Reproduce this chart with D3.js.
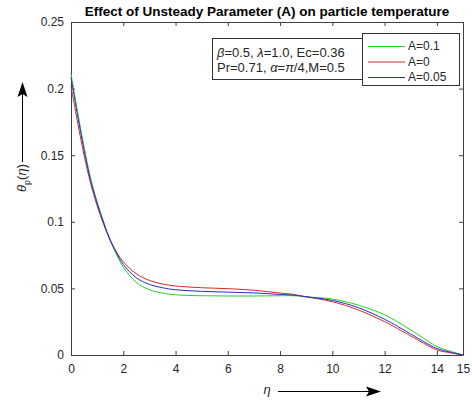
<!DOCTYPE html>
<html>
<head>
<meta charset="utf-8">
<script src="https://d3js.org/d3.v7.min.js"></script>
<style>
  body { margin: 0; background: #fff; }
  svg { display: block; font-family: "Liberation Sans", Arial, sans-serif; }
  .axis path, .axis line { stroke: #404040; }
  .axis text { fill: #262626; font-size: 12px; }
</style>
</head>
<body>
<svg></svg>
<script>
// DATA

let eta = [0, 0.25, 0.5, 0.75, 1, 1.25, 1.5, 1.75, 2, 2.5, 3, 3.5, 4, 5, 6, 7, 8, 8.5, 9, 10, 11, 12, 12.5, 13, 13.5, 14, 14.5, 15];

let thetaA01 = [0.211, 0.183, 0.156, 0.133, 0.115, 0.100, 0.086, 0.075, 0.066, 0.0545, 0.049, 0.0465, 0.0452, 0.0445, 0.0443, 0.0443, 0.0445, 0.0445, 0.0437, 0.042, 0.0374, 0.0302, 0.0248, 0.0188, 0.0124, 0.0064, 0.0029, 0];
let thetaA0 = [0.2015, 0.175, 0.150, 0.129, 0.112, 0.098, 0.086, 0.077, 0.070, 0.061, 0.056, 0.0533, 0.0518, 0.0505, 0.0498, 0.0486, 0.0465, 0.0455, 0.0437, 0.040, 0.0338, 0.025, 0.0198, 0.0143, 0.0088, 0.0038, 0.0017, 0];
let thetaA005 = [0.2085, 0.180, 0.154, 0.131, 0.114, 0.099, 0.0865, 0.0765, 0.068, 0.058, 0.053, 0.0505, 0.049, 0.0478, 0.0472, 0.0466, 0.0455, 0.045, 0.0437, 0.041, 0.0355, 0.0268, 0.0215, 0.0158, 0.0100, 0.0049, 0.0022, 0];

let seriesNames = ["A=0.1", "A=0", "A=0.05"];
let seriesColors = ["#1ed81e", "#d82828", "#2a2ac8"];
let seriesValues = [thetaA01, thetaA0, thetaA005];

let xTicks = [0, 2, 4, 6, 8, 10, 12, 14, 15];
let yTicks = [0, 0.05, 0.1, 0.15, 0.2, 0.25];

// PAGE SETUP

let margin = {top: 22, left: 71, right: 9, bottom: 50};
let width = 472 - margin.left - margin.right;
let height = 405 - margin.top - margin.bottom;

let root = d3.select("svg")
  .attr("width", 472)
  .attr("height", 405);

let svg = root.append("g")
  .attr("transform", `translate(${margin.left},${margin.top})`);

let x = d3.scaleLinear().domain([0, 15]).range([0, width]);
let y = d3.scaleLinear().domain([0, 0.25]).range([height, 0]);

// AXES (inward ticks on all four sides, like a matlab box)

let fmt = d => String(d);

svg.append("g")
  .attr("class", "axis")
  .attr("transform", `translate(0,${height})`)
  .call(d3.axisBottom(x).tickValues(xTicks).tickFormat(fmt).tickSizeInner(-4).tickSizeOuter(0).tickPadding(9));

svg.append("g")
  .attr("class", "axis")
  .call(d3.axisLeft(y).tickValues(yTicks).tickFormat(fmt).tickSizeInner(-4).tickSizeOuter(0).tickPadding(7));

svg.append("g")
  .attr("class", "axis")
  .call(d3.axisTop(x).tickValues(xTicks).tickFormat("").tickSizeInner(-4).tickSizeOuter(0));

svg.append("g")
  .attr("class", "axis")
  .attr("transform", `translate(${width},0)`)
  .call(d3.axisRight(y).tickValues(yTicks).tickFormat("").tickSizeInner(-4).tickSizeOuter(0));

// CURVES

let line = d3.line()
  .x(d => x(d[0]))
  .y(d => y(d[1]))
  .curve(d3.curveCatmullRom.alpha(0.5));

seriesValues.forEach(function(vals, i){
  svg.append("path")
    .datum(eta.map((e, j) => [e, vals[j]]))
    .attr("fill", "none")
    .attr("stroke", seriesColors[i])
    .attr("stroke-width", 1)
    .attr("d", line);
});

// TITLE

root.append("text")
  .attr("x", 267)
  .attr("y", 16)
  .attr("text-anchor", "middle")
  .attr("font-weight", "bold")
  .attr("font-size", "13.5px")
  .attr("fill", "#000")
  .text("Effect of Unsteady Parameter (A) on particle temperature");

// PARAMETER BOX

root.append("rect")
  .attr("x", 212.5).attr("y", 38.5)
  .attr("width", 150).attr("height", 41)
  .attr("fill", "#fff").attr("stroke", "#333");

let note = root.append("text")
  .attr("font-size", "13px")
  .attr("fill", "#262626");
note.append("tspan").attr("x", 217).attr("y", 57)
  .html('<tspan font-style="italic">β</tspan>=0.5, <tspan font-style="italic">λ</tspan>=1.0, Ec=0.36');
note.append("tspan").attr("x", 217).attr("y", 72)
  .html('Pr=0.71, <tspan font-style="italic">α</tspan>=<tspan font-style="italic">π</tspan>/4,M=0.5');

// LEGEND

root.append("rect")
  .attr("x", 362.5).attr("y", 33.5)
  .attr("width", 97).attr("height", 52)
  .attr("fill", "#fff").attr("stroke", "#333");

let legend = root.selectAll(".legend-item")
  .data(seriesNames)
  .enter()
  .append("g")
  .attr("class", "legend-item")
  .attr("transform", (d, i) => `translate(0,${46 + i * 15.5})`);

legend.append("line")
  .attr("x1", 368).attr("x2", 405)
  .attr("y1", 0.5).attr("y2", 0.5)
  .attr("stroke", (d, i) => seriesColors[i]);

legend.append("text")
  .attr("x", 408)
  .attr("y", 4)
  .attr("font-size", "12px")
  .attr("fill", "#262626")
  .text(d => d);

// AXIS LABELS WITH ARROWS

root.append("text")
  .attr("x", 267)
  .attr("y", 394)
  .attr("text-anchor", "middle")
  .attr("font-size", "13px")
  .attr("font-style", "italic")
  .attr("fill", "#262626")
  .text("η");

root.append("line")
  .attr("x1", 278).attr("y1", 391.5).attr("x2", 370).attr("y2", 391.5)
  .attr("stroke", "#000");
root.append("path")
  .attr("d", "M381,391.5 L366,386.5 L369,391.5 L366,396.5 Z")
  .attr("fill", "#000");

let ylab = root.append("text")
  .attr("transform", "translate(26,178) rotate(-90)")
  .attr("text-anchor", "middle")
  .attr("font-size", "13px")
  .attr("fill", "#262626");
ylab.append("tspan").attr("font-style", "italic").text("θ");
ylab.append("tspan").attr("font-size", "9px").attr("dy", 4).text("p");
ylab.append("tspan").attr("dy", -4).text("(");
ylab.append("tspan").attr("font-style", "italic").text("η");
ylab.append("tspan").text(")");

root.append("line")
  .attr("x1", 22.5).attr("y1", 162).attr("x2", 22.5).attr("y2", 92)
  .attr("stroke", "#000");
root.append("path")
  .attr("d", "M22.5,82 L17.5,97 L22.5,94 L27.5,97 Z")
  .attr("fill", "#000");
</script>
</body>
</html>
